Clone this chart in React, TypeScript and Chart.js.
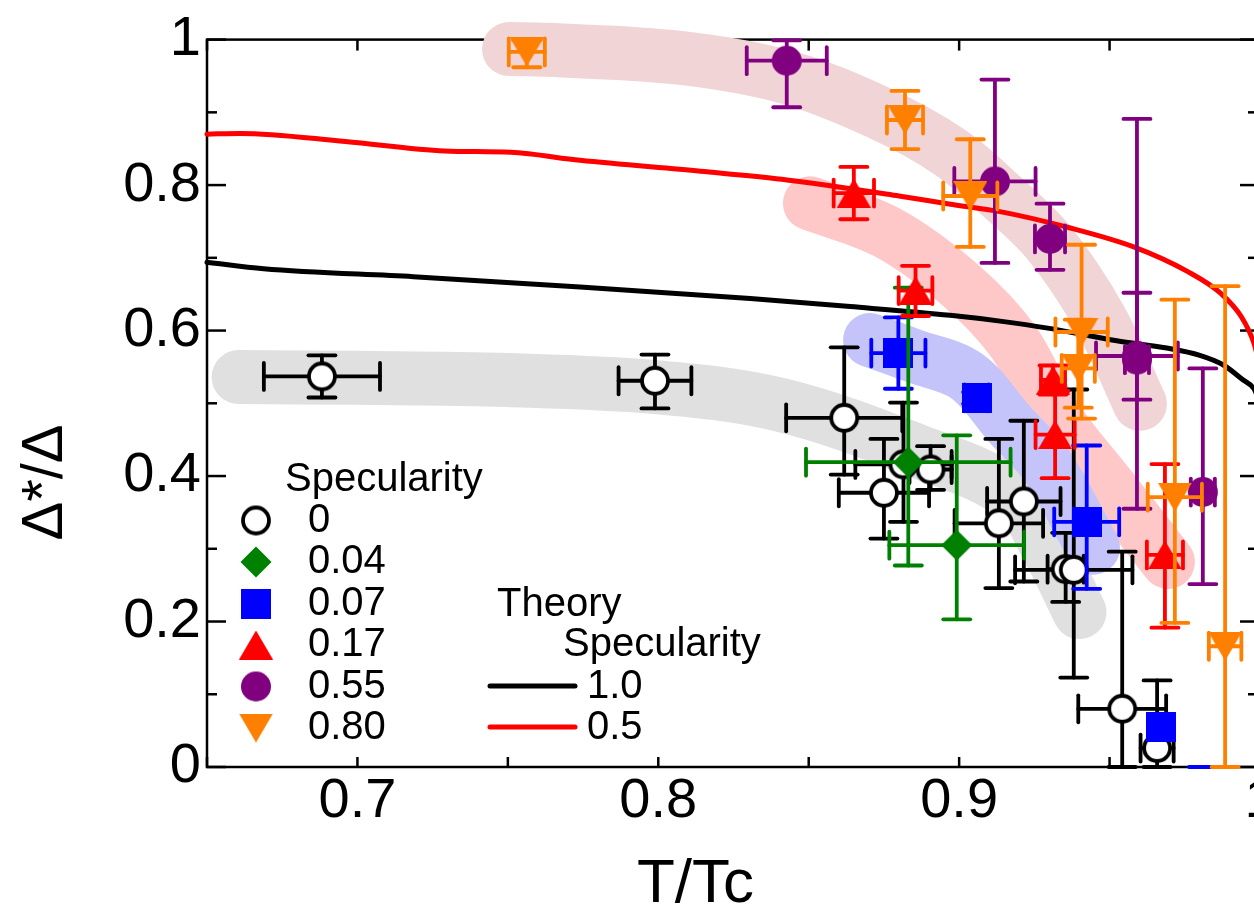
import React, { useEffect, useRef } from 'react';
import { Chart, registerables } from 'chart.js';

Chart.register(...registerables);

// ---------- axes ----------
const xTickValues = [0.7, 0.8, 0.9, 1.0];
const xTickLabels = ['0.7', '0.8', '0.9', '1'];
const xMinorTicks = [0.65, 0.75, 0.85, 0.95];
const yTickValues = [0, 0.2, 0.4, 0.6, 0.8, 1.0];
const yTickLabels = ['0', '0.2', '0.4', '0.6', '0.8', '1'];
const yMinorTicks = [0.1, 0.3, 0.5, 0.7, 0.9];

// ---------- specularity 0 (open circles) ----------
const s0X = [0.6882, 0.7989, 0.8618, 0.875, 0.8815, 0.8905, 0.9215, 0.9132, 0.9354, 0.9381, 0.9542, 0.9658];
const s0Y = [0.537, 0.531, 0.48, 0.377, 0.416, 0.409, 0.365, 0.335, 0.272, 0.271, 0.08, 0.026];
const s0XErr = [0.0193, 0.0121, 0.0193, 0.015, 0.016, 0.007, 0.0122, 0.0147, 0.006, 0.0195, 0.0146, 0.0055];
const s0YUp = [0.029, 0.036, 0.097, 0.074, 0.085, 0.032, 0.111, 0.116, 0.05, 0.248, 0.216, 0.093];
const s0YDn = [0.029, 0.038, 0.078, 0.063, 0.079, 0.028, 0.11, 0.089, 0.045, 0.148, 0.08, 0.026];

// ---------- specularity 0.04 (diamonds) ----------
const s004X = [0.8831, 0.8992];
const s004Y = [0.419, 0.305];
const s004XErr = [0.034, 0.0224];
const s004YUp = [0.24, 0.151];
const s004YDn = [0.142, 0.102];

// ---------- specularity 0.07 (squares) ----------
const s007X = [0.8798, 0.9058, 0.9424, 0.9671, 0.9809];
const s007Y = [0.569, 0.5075, 0.337, 0.055, -0.04];
const s007XErr = [0.009, 0.004, 0.0108, 0, 0];
const s007YUp = [0.049, 0.008, 0.105, 0, 0.04];
const s007YDn = [0.049, 0.008, 0.092, 0, 0];

// ---------- specularity 0.17 (up triangles) ----------
const s017X = [0.865, 0.8855, 0.9312, 0.9319, 0.9684];
const s017Y = [0.789, 0.655, 0.532, 0.457, 0.2915];
const s017XErr = [0.0067, 0.0056, 0.004, 0.0065, 0.006];
const s017YUp = [0.036, 0.034, 0.02, 0.06, 0.125];
const s017YDn = [0.036, 0.035, 0.02, 0.06, 0.1];

// ---------- specularity 0.55 (filled circles) ----------
const s055X = [0.8427, 0.9119, 0.9302, 0.9591, 0.9591, 0.981];
const s055Y = [0.971, 0.805, 0.726, 0.565, 0.56, 0.378];
const s055XErr = [0.0133, 0.0135, 0.005, 0.0136, 0.004, 0.004];
const s055YUp = [0.028, 0.14, 0.0485, 0.087, 0.331, 0.17];
const s055YDn = [0.064, 0.112, 0.0425, 0.06, 0.205, 0.1265];

// ---------- specularity 0.80 (down triangles) ----------
const s080X = [0.7563, 0.882, 0.9037, 0.9407, 0.9396, 0.9717, 0.9884];
const s080Y = [0.983, 0.8895, 0.785, 0.598, 0.548, 0.371, 0.166];
const s080XErr = [0.006, 0.006, 0.009, 0.0087, 0.0055, 0.009, 0.0054];
const s080YUp = [0.016, 0.04, 0.078, 0.12, 0.067, 0.2715, 0.495];
const s080YDn = [0.021, 0.04, 0.07, 0.119, 0.054, 0.173, 0.166];

// ---------- theory curves ----------
const theory10X = [0.65, 0.6688, 0.7186, 0.774, 0.8306, 0.8638, 0.897, 0.9136, 0.93, 0.9524, 0.969, 0.98, 0.9877, 0.9944, 0.998, 1.0];
const theory10Y = [0.694, 0.685, 0.674, 0.66, 0.644, 0.633, 0.621, 0.613, 0.603, 0.586, 0.576, 0.566, 0.553, 0.532, 0.52, 0.5];
const theory05X = [0.65, 0.661, 0.696, 0.729, 0.751, 0.774, 0.814, 0.841, 0.88, 0.8966, 0.9136, 0.936, 0.958, 0.976, 0.987, 0.9938, 0.998, 1.0];
const theory05Y = [0.87, 0.871, 0.86, 0.847, 0.845, 0.834, 0.819, 0.808, 0.785, 0.774, 0.7635, 0.742, 0.715, 0.681, 0.651, 0.619, 0.5825, 0.55];

// ---------- guide bands ----------
const bandGrayX = [0.6605, 0.7, 0.75, 0.8, 0.8405, 0.8847, 0.918, 0.9296, 0.94];
const bandGrayY = [0.536, 0.535, 0.532, 0.522, 0.498, 0.4366, 0.374, 0.3, 0.213];
const bandBlueX = [0.8704, 0.885, 0.9025, 0.917, 0.929, 0.9445];
const bandBlueY = [0.587, 0.565, 0.5375, 0.47, 0.415, 0.3015];
const bandPinkX = [0.8504, 0.876, 0.9, 0.918, 0.932, 0.95, 0.9694];
const bandPinkY = [0.775, 0.735, 0.664, 0.585, 0.48, 0.385, 0.282];
const bandMauveX = [0.7504, 0.763, 0.807, 0.843, 0.873, 0.897, 0.914, 0.93, 0.947, 0.9601];
const bandMauveY = [0.987, 0.986, 0.975, 0.948, 0.9, 0.845, 0.785, 0.72, 0.615, 0.4993];

// ---------- legend ----------
const legendTitle = 'Specularity';
const specLabels = ['0', '0.04', '0.07', '0.17', '0.55', '0.80'];
const theoryTitle = 'Theory';
const theorySubTitle = 'Specularity';
const theoryLabels = ['1.0', '0.5'];
const xTitle = 'T/Tc';
const yTitle = 'Δ*/Δ';

const FONT = "'Liberation Sans', Arial, Helvetica, sans-serif";

type Pt = { x: number; y: number; xe: number; yu: number; yd: number };

function zipErr(xs: number[], ys: number[], xe: number[], yu: number[], yd: number[]): Pt[] {
  return xs.map((x, i) => ({ x, y: ys[i], xe: xe[i], yu: yu[i], yd: yd[i] }));
}
function zipXY(xs: number[], ys: number[]) {
  return xs.map((x, i) => ({ x, y: ys[i] }));
}

function makeMarker(kind: string, color: string): HTMLCanvasElement {
  const c = document.createElement('canvas');
  let w = 32, h = 32;
  if (kind === 'triUp' || kind === 'triDown') { w = 34; h = 29; }
  if (kind === 'square') { w = 30; h = 30; }
  if (kind === 'openCircle') { w = 34; h = 34; }
  c.width = w; c.height = h;
  const g = c.getContext('2d')!;
  g.fillStyle = color;
  g.beginPath();
  if (kind === 'openCircle') {
    g.arc(w / 2, h / 2, 13, 0, Math.PI * 2);
    g.fillStyle = '#ffffff';
    g.fill();
    g.lineWidth = 3.8;
    g.strokeStyle = color;
    g.stroke();
    return c;
  }
  if (kind === 'circle') g.arc(w / 2, h / 2, 15, 0, Math.PI * 2);
  if (kind === 'diamond') { g.moveTo(16, 0.5); g.lineTo(31.5, 16); g.lineTo(16, 31.5); g.lineTo(0.5, 16); g.closePath(); }
  if (kind === 'square') g.rect(0, 0, w, h);
  if (kind === 'triUp') { g.moveTo(w / 2, 0); g.lineTo(w, h); g.lineTo(0, h); g.closePath(); }
  if (kind === 'triDown') { g.moveTo(0, 0); g.lineTo(w, 0); g.lineTo(w / 2, h); g.closePath(); }
  g.fill();
  return c;
}

export default function App() {
  const ref = useRef<HTMLCanvasElement>(null);

  useEffect(() => {
    const canvas = ref.current;
    if (!canvas) return;

    const series = [
      { label: '0.80', kind: 'triDown', color: '#ff8000', data: zipErr(s080X, s080Y, s080XErr, s080YUp, s080YDn), order: 1 },
      { label: '0.55', kind: 'circle', color: '#800080', data: zipErr(s055X, s055Y, s055XErr, s055YUp, s055YDn), order: 2 },
      { label: '0.17', kind: 'triUp', color: '#ff0000', data: zipErr(s017X, s017Y, s017XErr, s017YUp, s017YDn), order: 3 },
      { label: '0.04', kind: 'diamond', color: '#008000', data: zipErr(s004X, s004Y, s004XErr, s004YUp, s004YDn), order: 4 },
      { label: '0.07', kind: 'square', color: '#0000ff', data: zipErr(s007X, s007Y, s007XErr, s007YUp, s007YDn), order: 5 },
      { label: '0', kind: 'openCircle', color: '#000000', data: zipErr(s0X, s0Y, s0XErr, s0YUp, s0YDn), order: 6 },
    ];
    const markerImgs: Record<string, HTMLCanvasElement> = {};
    series.forEach((s) => { markerImgs[s.label] = makeMarker(s.kind, s.color); });

    const scatterSets = series.map((s) => ({
      type: 'scatter' as const,
      label: s.label,
      data: s.data,
      order: s.order,
      errColor: s.color,
      showLine: false,
      pointStyle: markerImgs[s.label],
      pointRadius: (c: any) => (c.raw && c.raw.y < 0 ? 0 : 15),
      clip: false as any,
    }));

    const lineSet = (label: string, xs: number[], ys: number[], color: string, width: number, order: number, tension: number) => ({
      type: 'line' as const,
      label,
      data: zipXY(xs, ys),
      order,
      borderColor: color,
      backgroundColor: color,
      borderWidth: width,
      borderCapStyle: 'round' as const,
      borderJoinStyle: 'round' as const,
      pointRadius: 0,
      fill: false,
      tension,
      clip: false as any,
    });

    const datasets: any[] = [
      ...scatterSets,
      { ...lineSet('theory 0.5', theory05X, theory05Y, '#ff0000', 5, 7, 0), cubicInterpolationMode: 'monotone' },
      { ...lineSet('theory 1.0', theory10X, theory10Y, '#000000', 5, 8, 0), cubicInterpolationMode: 'monotone' },
      lineSet('band 0.07', bandBlueX, bandBlueY, 'rgb(196,196,250)', 54, 9, 0.35),
      lineSet('band 0', bandGrayX, bandGrayY, 'rgb(224,224,224)', 54, 10, 0.35),
      lineSet('band 0.17', bandPinkX, bandPinkY, 'rgb(255,200,200)', 54, 11, 0.35),
      lineSet('band 0.55', bandMauveX, bandMauveY, 'rgb(240,212,214)', 54, 12, 0.35),
    ];

    const framePlugin = {
      id: 'frameTicks',
      beforeDatasetsDraw(chart: any) {
        const { ctx, chartArea: a, scales } = chart;
        const xs = scales.x, ys = scales.y;
        ctx.save();
        ctx.strokeStyle = '#000';
        ctx.lineWidth = 2.5;
        ctx.lineCap = 'butt';
        ctx.strokeRect(a.left, a.top, a.right - a.left, a.bottom - a.top);
        const seg = (x1: number, y1: number, x2: number, y2: number) => {
          ctx.beginPath(); ctx.moveTo(x1, y1); ctx.lineTo(x2, y2); ctx.stroke();
        };
        [...xTickValues, ...xMinorTicks].forEach((v) => {
          const p = xs.getPixelForValue(v);
          seg(p, a.bottom, p, a.bottom - 10);
          seg(p, a.top, p, a.top + 11);
        });
        yTickValues.forEach((v) => {
          const p = ys.getPixelForValue(v);
          seg(a.left, p, a.left + 19, p);
          seg(a.right, p, a.right - 20, p);
        });
        yMinorTicks.forEach((v) => {
          const p = ys.getPixelForValue(v);
          seg(a.left, p, a.left + 10, p);
          seg(a.right, p, a.right - 12, p);
        });
        ctx.restore();
      },
    };

    const errorPlugin = {
      id: 'errorBars',
      beforeDatasetDraw(chart: any, args: any) {
        const ds = chart.data.datasets[args.index];
        if (!ds.errColor) return;
        const { ctx, scales, chartArea: a } = chart;
        const xs = scales.x, ys = scales.y;
        const cap = 13.5;
        ctx.save();
        ctx.beginPath();
        ctx.rect(0, 0, chart.width, a.bottom + 2);
        ctx.clip();
        ctx.strokeStyle = ds.errColor;
        ctx.lineWidth = 3.8;
        ctx.lineCap = 'round';
        const seg = (x1: number, y1: number, x2: number, y2: number) => {
          ctx.beginPath(); ctx.moveTo(x1, y1); ctx.lineTo(x2, y2); ctx.stroke();
        };
        (ds.data as Pt[]).forEach((p) => {
          const px = xs.getPixelForValue(p.x);
          const py = ys.getPixelForValue(p.y);
          if (p.xe > 0) {
            const l = xs.getPixelForValue(p.x - p.xe);
            const r = xs.getPixelForValue(p.x + p.xe);
            seg(l, py, r, py);
            seg(l, py - cap, l, py + cap);
            seg(r, py - cap, r, py + cap);
          }
          if (p.yu > 0 || p.yd > 0) {
            const t = ys.getPixelForValue(p.y + p.yu);
            const b = ys.getPixelForValue(p.y - p.yd);
            seg(px, t, px, b);
            seg(px - cap, t, px + cap, t);
            seg(px - cap, b, px + cap, b);
          }
        });
        ctx.restore();
      },
    };

    const textPlugin = {
      id: 'texts',
      afterDatasetsDraw(chart: any) {
        const { ctx } = chart;
        ctx.save();
        ctx.fillStyle = '#000';
        // axis titles
        ctx.font = `62px ${FONT}`;
        ctx.textAlign = 'left';
        ctx.textBaseline = 'alphabetic';
        ctx.fillText(xTitle, 637, 902);
        ctx.save();
        ctx.translate(62, 482.5);
        ctx.rotate(-Math.PI / 2);
        ctx.font = `58px ${FONT}`;
        ctx.textAlign = 'center';
        ctx.fillText(yTitle, 0, 0);
        ctx.restore();

        // data legend
        ctx.font = `40px ${FONT}`;
        ctx.textBaseline = 'middle';
        ctx.textAlign = 'left';
        ctx.fillText(legendTitle, 285, 480);
        const rowsY = [520.5, 562, 603.5, 645, 686.5, 728];
        const order = ['0', '0.04', '0.07', '0.17', '0.55', '0.80'];
        order.forEach((lab, i) => {
          const img = markerImgs[lab];
          ctx.drawImage(img, 256 - img.width / 2, rowsY[i] - img.height / 2);
          ctx.fillText(specLabels[i], 308, rowsY[i]);
        });

        // theory legend
        ctx.fillText(theoryTitle, 497, 605);
        ctx.fillText(theorySubTitle, 563, 645);
        const lineY = [686, 727];
        const lineCols = ['#000000', '#ff0000'];
        ctx.lineWidth = 5;
        ctx.lineCap = 'round';
        lineY.forEach((ly, i) => {
          ctx.strokeStyle = lineCols[i];
          ctx.beginPath(); ctx.moveTo(490, ly); ctx.lineTo(575, ly); ctx.stroke();
          ctx.fillText(theoryLabels[i], 587, ly + 1);
        });
        ctx.restore();
      },
    };

    const findLabel = (vals: number[], labs: string[], v: number) => {
      const i = vals.findIndex((t) => Math.abs(t - v) < 1e-9);
      return i >= 0 ? labs[i] : '';
    };

    const chart = new Chart(canvas, {
      type: 'scatter',
      data: { datasets },
      options: {
        responsive: false,
        animation: false,
        events: [],
        layout: { padding: { left: 0, right: 40, top: 34, bottom: 0 } },
        plugins: { legend: { display: false }, tooltip: { enabled: false } },
        scales: {
          x: {
            type: 'linear',
            min: 0.65,
            max: 1.0,
            grid: { display: false, drawTicks: false },
            border: { display: false },
            afterBuildTicks: (s: any) => { s.ticks = xTickValues.map((v) => ({ value: v })); },
            afterFit: (s: any) => { s.height = 142; },
            ticks: {
              autoSkip: false,
              maxRotation: 0,
              padding: 1,
              color: '#000',
              font: { size: 56, family: FONT },
              callback: (v: any) => findLabel(xTickValues, xTickLabels, Number(v)),
            },
          },
          y: {
            type: 'linear',
            min: 0,
            max: 1.0,
            grid: { display: false, drawTicks: false },
            border: { display: false },
            afterBuildTicks: (s: any) => { s.ticks = yTickValues.map((v) => ({ value: v })); },
            afterFit: (s: any) => { s.width = 207; },
            ticks: {
              autoSkip: false,
              padding: 6,
              color: '#000',
              font: { size: 56, family: FONT },
              callback: (v: any) => findLabel(yTickValues, yTickLabels, Number(v)),
            },
          },
        },
      } as any,
      plugins: [framePlugin, errorPlugin, textPlugin],
    });

    return () => chart.destroy();
  }, []);

  return (
    <div style={{ position: 'fixed', left: 0, top: 0, width: 1254, height: 909, overflow: 'hidden', background: '#ffffff' }}>
      <canvas ref={ref} width={1300} height={909} style={{ display: 'block', width: 1300, height: 909 }} />
    </div>
  );
}
